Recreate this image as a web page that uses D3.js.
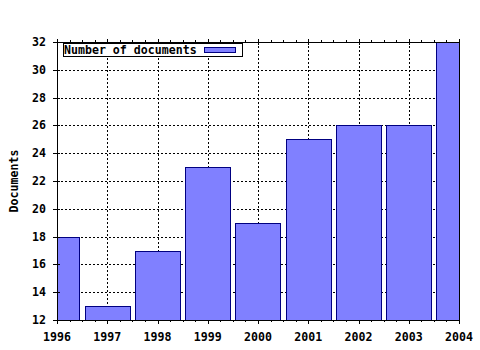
<!DOCTYPE html>
<html><head><meta charset="utf-8">
<script src="https://cdn.jsdelivr.net/npm/d3@7"></script>
<style>
html,body{margin:0;padding:0;background:#fff;}
text{font-family:"DejaVu Sans Mono",monospace;font-weight:bold;font-size:11.6px;fill:#000;}
</style></head>
<body>
<svg id="c" width="480" height="350"></svg>
<script>
const years = [1996, 1997, 1998, 1999, 2000, 2001, 2002, 2003, 2004];
const documents = [18, 13, 17, 23, 19, 25, 26, 26, 32];
const yTicks = [12, 14, 16, 18, 20, 22, 24, 26, 28, 30, 32];
const seriesName = "Number of documents";
const yTitle = "Documents";

const svg = d3.select("#c");
const L = 57, R = 459, T = 42, B = 320;
const x = d3.scaleLinear().domain([1996, 2004]).range([L, R]);
const y = d3.scaleLinear().domain([12, 32]).range([B, T]);
const step = x(1997) - x(1996);
const bw = step * 0.9;
const fill = "#8080ff", stroke = "#000080";

svg.append("defs").append("clipPath").attr("id", "pc")
  .append("rect").attr("x", L).attr("y", T).attr("width", R - L).attr("height", B - T);

// grid
const g = svg.append("g").attr("stroke", "#000").attr("stroke-dasharray", "2,2").attr("shape-rendering", "crispEdges");
years.slice(1, -1).forEach(v => {
  g.append("line").attr("x1", Math.round(x(v)) + 0.5).attr("x2", Math.round(x(v)) + 0.5).attr("y1", T).attr("y2", B);
});
yTicks.slice(1, -1).forEach(v => {
  g.append("line").attr("y1", Math.round(y(v)) + 0.5).attr("y2", Math.round(y(v)) + 0.5).attr("x1", L).attr("x2", R);
});

// bars
svg.append("g").attr("clip-path", "url(#pc)").selectAll("rect").data(years).join("rect")
  .attr("x", (d) => Math.round(x(d) - bw / 2) + 0.5)
  .attr("width", Math.round(bw))
  .attr("y", (d, i) => Math.round(y(documents[i])) + 0.5)
  .attr("height", (d, i) => B - Math.round(y(documents[i])) + 1)
  .attr("fill", fill).attr("stroke", stroke).attr("stroke-width", 1)
  .attr("shape-rendering", "crispEdges");

// frame
svg.append("rect").attr("x", L + 0.5).attr("y", T + 0.5).attr("width", R - L).attr("height", B - T)
  .attr("fill", "none").attr("stroke", "#000").attr("shape-rendering", "crispEdges");

// ticks
const tk = svg.append("g").attr("stroke", "#000").attr("shape-rendering", "crispEdges");
years.forEach((v, i) => {
  const px = Math.round(x(v)) + 0.5;
  tk.append("line").attr("x1", px).attr("x2", px).attr("y1", B).attr("y2", B + 4);
  tk.append("line").attr("x1", px).attr("x2", px).attr("y1", T - 3).attr("y2", T + 3);
  if (i < years.length - 1) {
    for (let k = 1; k < 4; k++) {
      const mx = Math.round(x(v + k / 4)) + 0.5;
      tk.append("line").attr("x1", mx).attr("x2", mx).attr("y1", B).attr("y2", B + 2);
      tk.append("line").attr("x1", mx).attr("x2", mx).attr("y1", T - 2).attr("y2", T);
    }
  }
});
yTicks.forEach(v => {
  const py = Math.round(y(v)) + 0.5;
  tk.append("line").attr("x1", L - 4).attr("x2", L + 3).attr("y1", py).attr("y2", py);
});

// labels
svg.append("g").selectAll("text").data(years).join("text")
  .attr("x", d => x(d)).attr("y", 341).attr("text-anchor", "middle").text(d => d);
svg.append("g").selectAll("text").data(yTicks).join("text")
  .attr("x", 46).attr("y", d => y(d) + 4).attr("text-anchor", "end").text(d => d);
svg.append("text").attr("transform", "translate(18,181) rotate(-90)")
  .attr("text-anchor", "middle").text(yTitle);

// legend
const lg = svg.append("g");
lg.append("rect").attr("x", 63.5).attr("y", 43.5).attr("width", 179).attr("height", 13)
  .attr("fill", "#fff").attr("stroke", "#000").attr("shape-rendering", "crispEdges");
lg.append("text").attr("x", 64).attr("y", 54).text(seriesName);
lg.append("rect").attr("x", 204.5).attr("y", 47.5).attr("width", 31).attr("height", 5)
  .attr("fill", fill).attr("stroke", stroke).attr("shape-rendering", "crispEdges");
</script>
</body></html>
